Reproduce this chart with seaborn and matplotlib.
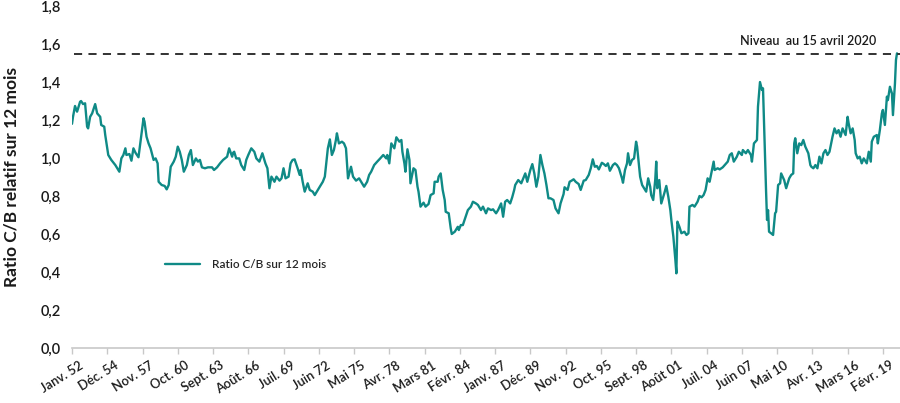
import matplotlib
matplotlib.use("Agg")
import matplotlib.pyplot as plt
import matplotlib.transforms as mtransforms
import pandas as pd
import seaborn as sns


# months elapsed since January 1952 and the relative 12-month P/E ratio
MONTHS = [
    0, 1, 3, 5, 6, 8, 9, 11, 13, 15, 16, 18, 20, 23, 25, 28, 29, 32, 33, 36,
    39, 43, 44, 47, 49, 51, 53, 54, 57, 59, 61, 63, 66, 68, 71, 72, 74, 76, 78, 81,
    83, 85, 86, 89, 92, 94, 96, 98, 101, 103, 105, 107, 109, 111, 114, 116, 118, 120, 123, 125,
    127, 129, 132, 135, 139, 141, 144, 147, 150, 154, 156, 159, 160,
    161, 163, 166, 168, 171, 173, 175, 178, 181, 183, 186, 189, 192, 194, 196, 198, 201, 203,
    206, 208, 210, 212, 215, 217, 219, 221, 224, 226, 227, 229, 231, 234, 236, 239, 241, 243,
    246, 249, 251, 253, 254, 256, 258, 260, 262, 263, 265, 268, 270, 272, 273, 274, 277, 279,
    282, 285, 288, 290, 293, 295, 297, 300, 303, 306, 309, 312, 313, 315, 317, 320, 322, 325,
    327, 328, 330, 331, 333, 335, 336, 339, 341, 343, 344, 346, 349, 351, 354, 356, 359, 360,
    363, 364, 366, 368, 370, 371, 374, 376, 377, 380, 383, 384, 386, 388, 391, 393, 396, 398,
    401, 403, 406, 408, 411, 413, 416, 418, 421, 423, 426, 428, 430, 432, 435, 437, 439, 440,
    443, 446, 448, 450, 452, 455, 457, 459, 461, 463, 465, 467, 469, 471, 473, 475, 478, 480,
    483, 485, 488, 489, 492, 494, 496, 498, 500, 503, 505, 508, 510, 513, 515, 517, 519, 521,
    523, 526, 528, 530, 532, 534, 537, 539, 541, 543, 546, 547, 549, 551, 552, 554, 556, 558,
    560, 561, 563, 564, 566, 568, 570, 572, 574, 575, 577, 579, 580, 581, 583, 585, 588, 590,
    592, 594, 595, 597, 599, 600, 601, 603, 605, 608, 610, 612, 613, 616, 618, 621, 623, 625,
    627, 629, 631, 633, 635, 637, 638, 641, 643, 646, 648, 651, 653, 655, 657, 660, 662, 665,
    666, 669, 671, 674, 675, 677, 680, 681, 683, 685, 686, 687, 689, 690, 691, 692, 694, 696,
    698, 699, 701, 703, 704, 707, 709, 712, 714, 716, 717, 718, 720, 722, 724, 726, 728, 731,
    733, 734, 736, 738, 740, 742, 744, 746, 748, 750, 752, 755, 757, 759, 761, 763, 765, 768,
    770, 771, 773, 775, 777, 778, 780, 782, 784, 786, 789, 791, 793, 794, 796, 799, 800, 802,
    804, 805, 807, 809, 810, 812, 814, 815, 817, 818, 819,
]
RATIO = [
    1.18, 1.217, 1.274, 1.244, 1.26, 1.296, 1.30, 1.284, 1.288, 1.165, 1.156, 1.217, 1.235, 1.284, 1.235, 1.217, 1.174, 1.165, 1.121, 1.016,
    0.99, 0.963, 0.954, 0.928, 0.998, 1.016, 1.051, 1.016, 1.021, 0.986, 1.051, 1.028, 1.004, 1.086, 1.209, 1.191, 1.112, 1.077, 1.051, 0.99,
    0.998, 0.972, 0.875, 0.858, 0.853, 0.835, 0.858, 0.954, 0.981, 1.007, 1.06, 1.033, 0.99, 0.928, 0.963, 1.016, 1.042, 0.963, 0.998, 0.981,
    0.99, 0.951, 0.946, 0.951, 0.951, 0.937, 0.951, 0.972, 0.99, 1.007, 1.051, 1.007, 1.028,
    1.033, 0.998, 0.998, 0.963, 0.937, 0.99, 1.016, 1.051, 1.033, 0.998, 0.981, 1.025, 0.972, 0.946, 0.841, 0.902, 0.875, 0.902,
    0.881, 0.893, 0.946, 0.893, 0.902, 0.972, 0.99, 0.993, 0.946, 0.911, 0.937, 0.875, 0.823, 0.867, 0.832, 0.823, 0.805, 0.823,
    0.849, 0.875, 0.902, 0.998, 1.051, 1.098, 1.016, 1.042, 1.095, 1.13, 1.077, 1.086, 1.077, 1.051, 0.972, 0.893, 0.954, 0.902,
    0.881, 0.893, 0.867, 0.849, 0.875, 0.911, 0.928, 0.963, 0.981, 0.998, 1.016, 0.998, 1.016, 0.972, 1.077, 1.051, 1.109, 1.086,
    1.095, 1.033, 0.972, 0.928, 1.046, 0.99, 0.867, 0.946, 0.937, 0.849, 0.823, 0.744, 0.765, 0.744, 0.758, 0.805, 0.814, 0.875,
    0.875, 0.902, 0.919, 0.832, 0.779, 0.717, 0.709, 0.63, 0.60, 0.612, 0.638, 0.621, 0.647, 0.647, 0.695, 0.726, 0.744, 0.77,
    0.761, 0.753, 0.726, 0.744, 0.709, 0.735, 0.726, 0.73, 0.709, 0.726, 0.761, 0.691, 0.77, 0.779, 0.761, 0.793, 0.832, 0.858,
    0.884, 0.867, 0.893, 0.919, 0.875, 0.937, 0.968, 0.919, 0.849, 0.902, 1.016, 0.963, 0.919, 0.858, 0.788, 0.788, 0.779, 0.735,
    0.709, 0.761, 0.81, 0.846, 0.832, 0.875, 0.881, 0.888, 0.875, 0.863, 0.832, 0.881, 0.884, 0.911, 0.946, 0.993, 0.954, 0.958,
    0.94, 0.975, 0.968, 0.958, 0.972, 0.933, 0.963, 0.972, 0.963, 0.946, 0.893, 0.87, 0.937, 0.972, 1.025, 0.963, 0.99, 0.998,
    1.086, 1.06, 0.954, 0.902, 0.858, 0.841, 0.823, 0.893, 0.849, 0.805, 0.779, 0.884, 0.981, 0.841, 0.884, 0.761, 0.814, 0.853,
    0.796, 0.726, 0.674, 0.586, 0.463, 0.393, 0.665, 0.638, 0.604, 0.612, 0.595, 0.604, 0.744, 0.753, 0.744, 0.77, 0.80, 0.793,
    0.805, 0.832, 0.893, 0.875, 0.928, 0.981, 0.937, 0.946, 0.94, 0.951, 0.963, 0.981, 1.016, 1.025, 0.981, 1.007, 1.033, 1.016,
    1.042, 1.025, 1.042, 1.016, 0.981, 1.077, 1.095, 1.27, 1.40, 1.358, 1.367, 1.183, 0.832, 0.674, 0.726, 0.612, 0.604, 0.595,
    0.709, 0.717, 0.858, 0.867, 0.919, 0.884, 0.841, 0.893, 0.911, 0.919, 1.077, 1.104, 1.025, 1.077, 1.068, 1.095, 1.06, 1.025,
    0.963, 0.954, 0.946, 0.963, 0.946, 1.007, 0.972, 1.025, 1.042, 1.016, 1.033, 1.112, 1.156, 1.13, 1.147, 1.112, 1.156, 1.121,
    1.217, 1.183, 1.13, 1.156, 1.095, 1.025, 0.998, 1.007, 0.972, 0.998, 0.972, 1.033, 0.981, 1.086, 1.112, 1.121, 1.077, 1.147,
    1.235, 1.253, 1.174, 1.323, 1.305, 1.375, 1.34, 1.226, 1.393, 1.516, 1.551,
]
LEVEL_APRIL_2020 = 1.55

TICK_LABELS = [
    "Janv. 52", "Déc. 54", "Nov. 57", "Oct. 60", "Sept. 63", "Août. 66",
    "Juil. 69", "Juin 72", "Mai 75", "Avr. 78", "Mars 81", "Févr. 84",
    "Janv. 87", "Déc. 89", "Nov. 92", "Oct. 95", "Sept. 98", "Août 01",
    "Juil. 04", "Juin 07", "Mai 10", "Avr. 13", "Mars 16", "Févr. 19",
]
TICK_STEP = 35  # months between two labels
Y_TICKS = [0.0, 0.2, 0.4, 0.6, 0.8, 1.0, 1.2, 1.4, 1.6, 1.8]

TEAL = "#0f8a86"
INK = "#1a1a1a"


def main() -> None:
    sns.set_style("white")
    plt.rcParams["font.family"] = ["Lato", "DejaVu Sans"]

    data = pd.DataFrame({"month": MONTHS, "ratio": RATIO})

    fig = plt.figure(figsize=(9, 4.03), dpi=100)
    ax = fig.add_axes([0.08, 0.1365, 0.92, 0.8485])

    sns.lineplot(data=data, x="month", y="ratio", ax=ax, color=TEAL,
                 linewidth=1.7, label="Ratio C/B sur 12 mois")
    ax.axhline(LEVEL_APRIL_2020, color="#222222", linestyle=(0, (4.5, 3.5)),
               linewidth=1.3, xmin=0.003, xmax=1.0)
    ax.text(798, LEVEL_APRIL_2020 + 0.035, "Niveau  au 15 avril 2020",
            ha="right", va="bottom", fontsize=9, fontweight="semibold",
            color=INK)

    ax.set_xlim(0, 822)
    ax.set_ylim(0, 1.8)

    ticks = [i * TICK_STEP for i in range(len(TICK_LABELS))]
    ax.set_xticks(ticks)
    ax.set_xticklabels(TICK_LABELS, rotation=32, ha="right",
                       rotation_mode="anchor", fontsize=9.3,
                       fontweight="semibold", color=INK)
    ax.tick_params(axis="x", length=4, width=1, color="#c8c8c8",
                   direction="out", pad=4, bottom=True)
    # the labels end a little to the right of their tick
    shift = mtransforms.ScaledTranslation(5 / 72, 0, fig.dpi_scale_trans)
    for label in ax.get_xticklabels():
        label.set_transform(label.get_transform() + shift)

    ax.set_yticks(Y_TICKS)
    ax.set_yticklabels([f"{v:.1f}".replace(".", ",") for v in Y_TICKS],
                       fontsize=10.5, fontweight="semibold", color=INK)
    ax.tick_params(axis="y", length=0, pad=8)

    ax.set_xlabel("")
    ax.set_ylabel("Ratio C/B relatif sur 12 mois", fontsize=12.5,
                  fontweight="bold", color=INK)
    ax.yaxis.set_label_coords(-0.064, 0.5)

    for side in ["top", "right", "left"]:
        ax.spines[side].set_visible(False)
    ax.spines["bottom"].set_color("#c8c8c8")
    ax.spines["bottom"].set_linewidth(1.2)

    ax.legend(loc="center left", bbox_to_anchor=(0.112, 0.243), frameon=False,
              prop={"size": 8.5, "weight": "semibold"}, handlelength=3.0,
              handletextpad=1.0, borderpad=0, borderaxespad=0)

    fig.savefig("out.png", dpi=100)
    plt.close(fig)


if __name__ == "__main__":
    main()
